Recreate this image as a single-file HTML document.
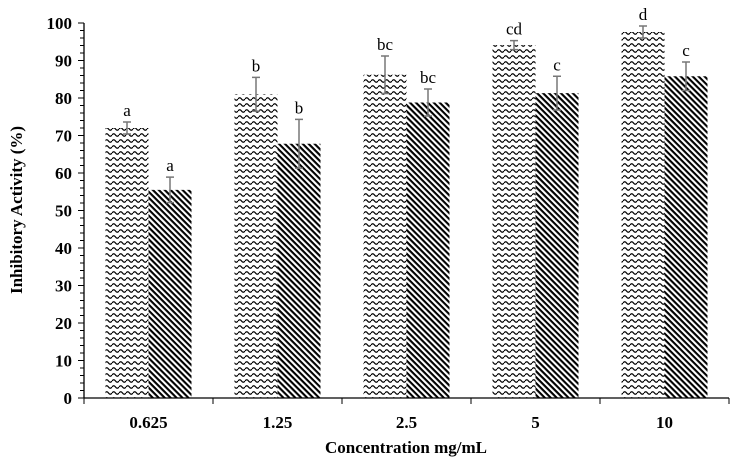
<!DOCTYPE html>
<html><head><meta charset="utf-8"><style>
html,body{margin:0;padding:0;background:#fff;}
svg text{font-family:"Liberation Serif",serif;}
</style></head><body>
<svg id="chart" width="737" height="467" xmlns="http://www.w3.org/2000/svg">
<defs>
<pattern id="wave" patternUnits="userSpaceOnUse" width="7" height="6">
<path d="M0,3 Q1.75,0.5 3.5,3 T7,3" fill="none" stroke="#000" stroke-width="1.2"/>
</pattern>
<pattern id="diag" patternUnits="userSpaceOnUse" width="4.2" height="4.2" patternTransform="rotate(45)">
<rect x="0" y="0" width="4.2" height="2.1" fill="#000"/>
</pattern>
</defs>
<g id="plot"></g>
</svg>
<script>
const categories=["0.625","1.25","2.5","5","10"];
const series1=[72,81,86.2,94.1,97.6];
const series2=[55.5,67.8,78.8,81.3,85.8];
const err1=[1.6,4.5,5,1.2,1.6];
const err2=[3.4,6.5,3.6,4.5,3.8];
const letters1=["a","b","bc","cd","d"];
const letters2=["a","b","bc","c","c"];
const yTicks=[0,10,20,30,40,50,60,70,80,90,100];

const NS="http://www.w3.org/2000/svg";
const g=document.getElementById('plot');
const x0=84,x1=729,yB=398,yT=23;
const bw=(x1-x0)/categories.length;
function y(v){return yB-(v/100)*(yB-yT);}
function el(t,a,txt){const e=document.createElementNS(NS,t);for(const k in a)e.setAttribute(k,a[k]);if(txt!==undefined)e.textContent=txt;g.appendChild(e);return e;}

let ax=el('line',{x1:x0,y1:yT,x2:x0,y2:yB,stroke:'#000','stroke-width':1.3});


ax=el('line',{x1:x0,y1:yB,x2:x1,y2:yB,stroke:'#000','stroke-width':1.3});


for(let v=0;v<=100;v+=2){
  const major=v%10===0;
  el('line',{x1:x0-(major?6:4),y1:y(v),x2:x0,y2:y(v),stroke:'#000','stroke-width':1});
}
yTicks.forEach(v=>{
  const t=el('text',{x:x0-12,y:y(v)+6,'text-anchor':'end','font-size':17,'font-weight':'bold'},String(v));
  
  
});
for(let i=0;i<=categories.length;i++){
  el('line',{x1:x0+i*bw,y1:yB,x2:x0+i*bw,y2:yB+6,stroke:'#000','stroke-width':1});
}
categories.forEach((c,i)=>{
  const cx=x0+(i+0.5)*bw;
  const t=el('text',{x:cx,y:yB+30,'text-anchor':'middle','font-size':17,'font-weight':'bold'},c);
  
  
  const barW=43;
  [[series1,err1,letters1,'url(#wave)',cx-barW],[series2,err2,letters2,'url(#diag)',cx]].forEach((s,k)=>{
    const v=s[0][i],e=s[1][i],bx=s[4];
    const r=el('rect',{x:bx,y:y(v),width:barW,height:yB-y(v),fill:s[3]});
    
    
    const ex=bx+barW/2;
    el('line',{x1:ex,y1:y(v+e),x2:ex,y2:y(v-e),stroke:'#777','stroke-width':1.5});
    el('line',{x1:ex-4,y1:y(v+e),x2:ex+4,y2:y(v+e),stroke:'#777','stroke-width':1.5});
    el('line',{x1:ex-4,y1:y(v-e),x2:ex+4,y2:y(v-e),stroke:'#777','stroke-width':1.5});
    const l=el('text',{x:ex,y:y(v+e)-6,'text-anchor':'middle','font-size':17},s[2][i]);
    
    
  });
});
let xt=el('text',{x:406,y:453,'text-anchor':'middle','font-size':17,'font-weight':'bold'},'Concentration mg/mL');


let yt=el('text',{x:0,y:0,'text-anchor':'middle','font-size':17,'font-weight':'bold',transform:'translate(22,210) rotate(-90)'},'Inhibitory  Activity (%)');


</script>
</body></html>
